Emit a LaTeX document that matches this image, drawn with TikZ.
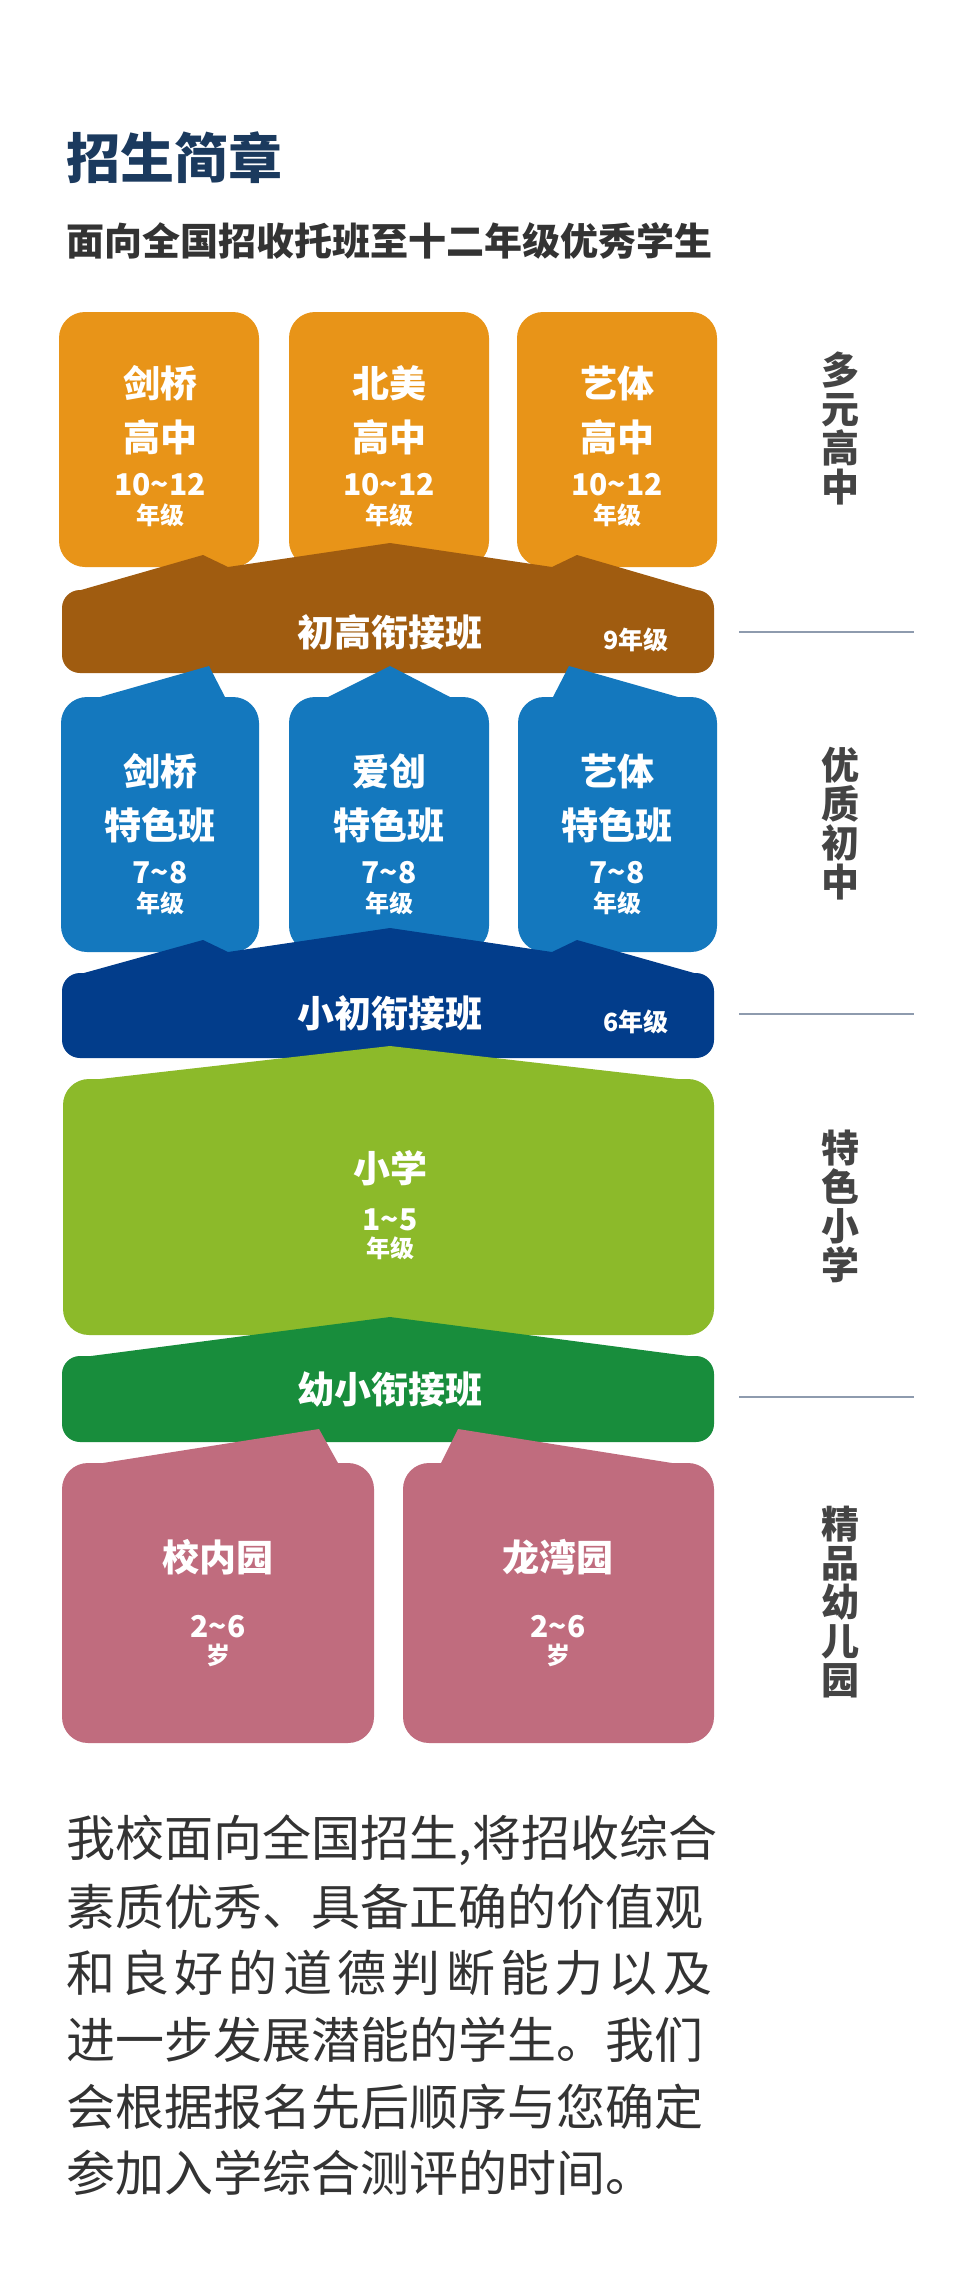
\documentclass[tikz,border=0pt]{standalone}
\usepackage{fontspec}
\setmainfont{Noto Sans CJK SC}
\usepackage{tikz}
\usetikzlibrary{positioning}
\definecolor{ZsNavy}{HTML}{1B3A5E}
\definecolor{ZsText}{HTML}{333333}
\definecolor{ZsSide}{HTML}{444444}
\definecolor{ZsRule}{HTML}{8E9BAE}
\definecolor{ZsOrange}{HTML}{E89418}
\definecolor{ZsBrown}{HTML}{A05C10}
\definecolor{ZsBlue}{HTML}{1478BE}
\definecolor{ZsDeep}{HTML}{023D8B}
\definecolor{ZsLime}{HTML}{8CBA2A}
\definecolor{ZsGreen}{HTML}{188D3C}
\definecolor{ZsRose}{HTML}{C06C7E}
\newcommand{\fsz}[2]{\fontsize{#1}{#2}\selectfont}
\newcommand{\til}{\textasciitilde}
\tikzset{
  boxname/.style={text=white,font=\fsz{37}{54}\bfseries,align=center,inner sep=0pt},
  gradenum/.style={text=white,font=\fsz{30}{30}\bfseries,inner sep=0pt},
  gradeunit/.style={text=white,font=\fsz{24}{24}\bfseries,inner sep=0pt},
  bandgrade/.style={text=white,font=\fsz{25}{25}\bfseries,inner sep=0pt},
  sidelabel/.style={text=ZsSide,font=\fsz{38}{39}\bfseries,align=center,inner sep=0pt},
  sidelevel/.style={draw=ZsRule,line width=1.5pt},
  bodyline/.style={text=ZsText,font=\fsz{49}{49},anchor=west,inner sep=0pt}
}
\begin{document}
\begin{tikzpicture}[x=1pt,y=-1pt]
\useasboundingbox[fill=white] (0,0) rectangle (976,2296);

% heading
\node[text=ZsNavy,font=\fsz{54}{54}\bfseries,anchor=west,inner sep=0pt] (title) at (66,158) {招生简章};
\node[text=ZsText,font=\fsz{38}{38}\bfseries,anchor=west,inner sep=0pt] (subtitle) at (66,241) {面向全国招收托班至十二年级优秀学生};

% high school row
\fill[ZsOrange,rounded corners=26pt] (59,312) rectangle (259,567);
\fill[ZsOrange,rounded corners=26pt] (289,312) rectangle (489,567);
\fill[ZsOrange,rounded corners=26pt] (517,312) rectangle (717,567);
\node[boxname] (hs1) at (160,410) {剑桥\\高中};
\node[boxname] (hs2) at (389,410) {北美\\高中};
\node[boxname] (hs3) at (617,410) {艺体\\高中};
\node[gradenum] (hs1n) at (160,485) {10\til12};
\node[gradenum] (hs2n) at (389,485) {10\til12};
\node[gradenum] (hs3n) at (617,485) {10\til12};
\node[gradeunit] (hs1u) at (160,515) {年级};
\node[gradeunit] (hs2u) at (389,515) {年级};
\node[gradeunit] (hs3u) at (617,515) {年级};

% grade 9 bridge
\fill[ZsBrown,rounded corners=18pt] (62,590) rectangle (714,673);
\fill[ZsBrown] (81,596) -- (81,590) -- (203,555) -- (228,567) -- (390,543) -- (552,567) -- (577,555) -- (697,590) -- (697,596) -- cycle;
\node[boxname] (bridge9) at (390,632) {初高衔接班};
\node[bandgrade] (bridge9g) at (636,640) {9年级};

% middle school row
\fill[ZsBlue,rounded corners=26pt] (61,697) rectangle (259,952);
\fill[ZsBlue,rounded corners=26pt] (289,697) rectangle (489,952);
\fill[ZsBlue,rounded corners=26pt] (518,697) rectangle (717,952);
\fill[ZsBlue] (100,700) -- (100,697) -- (209,666) -- (225,697) -- (225,700) -- cycle;
\fill[ZsBlue] (328,700) -- (328,697) -- (390,666) -- (450,697) -- (450,700) -- cycle;
\fill[ZsBlue] (553,700) -- (553,697) -- (569,666) -- (678,697) -- (678,700) -- cycle;
\node[boxname] (ms1) at (160,798) {剑桥\\特色班};
\node[boxname] (ms2) at (389,798) {爱创\\特色班};
\node[boxname] (ms3) at (617,798) {艺体\\特色班};
\node[gradenum] (ms1n) at (160,873) {7\til8};
\node[gradenum] (ms2n) at (389,873) {7\til8};
\node[gradenum] (ms3n) at (617,873) {7\til8};
\node[gradeunit] (ms1u) at (160,903) {年级};
\node[gradeunit] (ms2u) at (389,903) {年级};
\node[gradeunit] (ms3u) at (617,903) {年级};

% grade 6 bridge
\fill[ZsDeep,rounded corners=18pt] (62,973) rectangle (714,1058);
\fill[ZsDeep] (84,979) -- (84,973) -- (203,940) -- (228,952) -- (390,928) -- (552,952) -- (577,940) -- (694,973) -- (694,979) -- cycle;
\node[boxname] (bridge6) at (390,1013) {小初衔接班};
\node[bandgrade] (bridge6g) at (636,1022) {6年级};

% primary school
\fill[ZsLime,rounded corners=26pt] (63,1079) rectangle (714,1335);
\fill[ZsLime] (100,1085) -- (100,1079) -- (390,1046) -- (678,1079) -- (678,1085) -- cycle;
\node[boxname] (prim) at (390,1168) {小学};
\node[gradenum] (primn) at (390,1220) {1\til5};
\node[gradeunit] (primu) at (390,1248) {年级};

% kindergarten bridge
\fill[ZsGreen,rounded corners=18pt] (62,1356) rectangle (714,1442);
\fill[ZsGreen] (91,1362) -- (91,1356) -- (390,1317) -- (688,1356) -- (688,1362) -- cycle;
\node[boxname] (bridgek) at (390,1390) {幼小衔接班};

% kindergartens
\fill[ZsRose,rounded corners=26pt] (62,1463) rectangle (374,1743);
\fill[ZsRose,rounded corners=26pt] (403,1463) rectangle (714,1743);
\fill[ZsRose] (103,1467) -- (103,1463) -- (319,1429) -- (338,1463) -- (338,1467) -- cycle;
\fill[ZsRose] (441,1467) -- (441,1463) -- (458,1429) -- (672,1463) -- (672,1467) -- cycle;
\node[boxname] (kg1) at (218,1557) {校内园};
\node[boxname] (kg2) at (558,1557) {龙湾园};
\node[gradenum] (kg1n) at (218,1627) {2\til6};
\node[gradenum] (kg2n) at (558,1627) {2\til6};
\node[gradeunit] (kg1u) at (218,1655) {岁};
\node[gradeunit] (kg2u) at (558,1655) {岁};

% stage labels on the right
\node[sidelabel] (stageH) at (840,428) {多\\元\\高\\中};
\node[sidelabel] (stageM) at (840,824) {优\\质\\初\\中};
\node[sidelabel] (stageP) at (840,1206) {特\\色\\小\\学};
\node[sidelabel] (stageK) at (840,1602) {精\\品\\幼\\儿\\园};
\draw[sidelevel] (739,632) -- (914,632);
\draw[sidelevel] (739,1014) -- (914,1014);
\draw[sidelevel] (739,1397) -- (914,1397);

% body text
\node[bodyline] (line1) at (66,1840) {我校面向全国招生,\kern1pt将招收综合};
\node[bodyline] (line2) at (66,1907) {素质优秀、具备正确的价值观};
\node[bodyline] (line3) at (66,1973) {\makebox[646pt][l]{和\hfill 良\hfill 好\hfill 的\hfill 道\hfill 德\hfill 判\hfill 断\hfill 能\hfill 力\hfill 以\hfill 及}};
\node[bodyline] (line4) at (66,2040) {进一步发展潜能的学生。我们};
\node[bodyline] (line5) at (66,2107) {会根据报名先后顺序与您确定};
\node[bodyline] (line6) at (66,2173) {参加入学综合测评的时间。};
\end{tikzpicture}
\end{document}
